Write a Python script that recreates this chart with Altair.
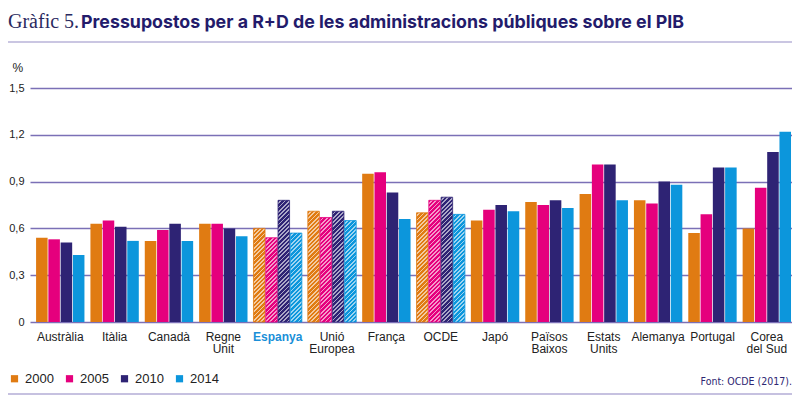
import altair as alt
import pandas as pd
import math

countries = ["Austràlia", "Itàlia", "Canadà", "Regne Unit", "Espanya", "Unió Europea",
             "França", "OCDE", "Japó", "Països Baixos", "Estats Units", "Alemanya",
             "Portugal", "Corea del Sud"]
years = ["2000", "2005", "2010", "2014"]
v2000 = [0.54, 0.63, 0.52, 0.63, 0.60, 0.71, 0.95, 0.70, 0.65, 0.77, 0.82, 0.78, 0.57, 0.60]
v2005 = [0.53, 0.65, 0.59, 0.63, 0.54, 0.67, 0.96, 0.78, 0.72, 0.75, 1.01, 0.76, 0.69, 0.86]
v2010 = [0.51, 0.61, 0.63, 0.60, 0.78, 0.71, 0.83, 0.80, 0.75, 0.78, 1.01, 0.90, 0.99, 1.09]
v2014 = [0.43, 0.52, 0.52, 0.55, 0.57, 0.65, 0.66, 0.69, 0.71, 0.73, 0.78, 0.88, 0.99, 1.22]
hatched = ["Espanya", "Unió Europea", "OCDE"]
colors = ["#e07b12", "#e5007d", "#2e2374", "#0c96dc"]

series = [v2000, v2005, v2010, v2014]
rows = []
for yi, yr in enumerate(years):
    for ci, c in enumerate(countries):
        rows.append({"country": c, "year": yr, "value": series[yi][ci],
                     "hatched": c in hatched})
df = pd.DataFrame(rows)

W, H = 762, 234
YMAX = 1.5
PI, PO, ALIGN = 0.11, 0.065, 0.86
PI2 = 0.06
step = W / (len(countries) - PI + 2 * PO)
bw = step * (1 - PI)
step2 = bw / (len(years) - PI2)
barw = step2 * (1 - PI2)

def lighten(hexc, f):
    r, g, b = int(hexc[1:3], 16), int(hexc[3:5], 16), int(hexc[5:7], 16)
    r = round(r + (255 - r) * f); g = round(g + (255 - g) * f); b = round(b + (255 - b) * f)
    return "#%02x%02x%02x" % (r, g, b)

def hatch_gradient(col, value):
    h = value / YMAX * H
    w = barw
    light = lighten(col, 0.6)
    period = 3.0 * math.sqrt(2)
    frac = 0.42
    k = w / (w * w + h * h)
    stops = []
    s = 0.0
    total = w + h
    while s < total:
        a = s * k
        b = (s + (1 - frac) * period) * k
        c = (s + period) * k
        stops += [{"offset": min(a, 1), "color": col}, {"offset": min(b, 1), "color": col},
                  {"offset": min(b, 1), "color": light}, {"offset": min(c, 1), "color": light}]
        s += period
    return {"gradient": "linear", "x1": 0, "y1": 0, "x2": 1, "y2": h / w, "stops": stops}

label_font = "Liberation Sans, Arial, sans-serif"

x_enc = alt.X("country:N",
              scale=alt.Scale(domain=countries, paddingInner=PI, paddingOuter=PO, align=ALIGN),
              axis=alt.Axis(title=None, domain=False, ticks=False, labelAngle=0,
                            labelPadding=9, labelFontSize=12, labelFont=label_font,
                            labelBaseline="top", labelLineHeight=12.5,
                            labelColor=alt.condition("datum.value == 'Espanya'",
                                                     alt.value("#1a8fd8"), alt.value("#222222")),
                            labelFontWeight=alt.condition("datum.value == 'Espanya'",
                                                          alt.value("bold"), alt.value("normal")),
                            labelExpr="datum.value == 'Corea del Sud' ? ['Corea', 'del Sud'] : split(datum.value, ' ')"))
xo_enc = alt.XOffset("year:N", scale=alt.Scale(domain=years, paddingInner=PI2, paddingOuter=0))
y_enc = alt.Y("value:Q", scale=alt.Scale(domain=[0, YMAX], nice=False),
              axis=alt.Axis(values=[0, 0.3, 0.6, 0.9, 1.2, 1.5], domain=False, ticks=False,
                            grid=True, gridColor="#7b70b6", gridWidth=1.5,
                            labelPadding=6, labelFontSize=11, labelFont=label_font,
                            labelColor="#222222",
                            labelExpr="datum.value == 0 ? '0' : replace(format(datum.value, '.1f'), '.', ',')",
                            title="%", titleAngle=0, titleAlign="left", titleBaseline="middle",
                            titleX=-18, titleY=-21, titleFontSize=12, titleFontWeight="normal",
                            titleFont=label_font, titleColor="#222222"))

base = alt.Chart(df[~df["hatched"]]).mark_bar().encode(
    x=x_enc, xOffset=xo_enc, y=y_enc,
    color=alt.Color("year:N", scale=alt.Scale(domain=years, range=colors),
                    legend=alt.Legend(title=None, orient="none", legendX=-22, legendY=284,
                                      direction="horizontal", symbolType="square",
                                      symbolSize=52, symbolStrokeWidth=0,
                                      labelFontSize=13, labelFont=label_font,
                                      labelColor="#222222", labelOffset=4,
                                      columnPadding=9))
)

layers = [base]
hdf = df[df["hatched"]]
for _, r in hdf.iterrows():
    col = colors[years.index(r["year"])]
    g = hatch_gradient(col, r["value"])
    layers.append(
        alt.Chart(pd.DataFrame([r])).mark_bar(color=g, stroke=col, strokeWidth=0.8).encode(
            x=x_enc, xOffset=xo_enc, y=y_enc)
    )

one = pd.DataFrame({"a": [0]})
title_a = alt.Chart(one).mark_text(align="left", baseline="alphabetic",
                                   font="Liberation Serif, serif", fontSize=20,
                                   color="#2a2960").encode(
    x=alt.value(-22), y=alt.value(-60), text=alt.value("Gràfic 5."))
title_b = alt.Chart(one).mark_text(align="left", baseline="alphabetic",
                                   font="Inter, sans-serif", fontSize=17.8, fontWeight="bold",
                                   color="#231b6b").encode(
    x=alt.value(51), y=alt.value(-60),
    text=alt.value("Pressupostos per a R+D de les administracions públiques sobre el PIB"))
line_top = alt.Chart(one).mark_rule(color="#b9b3d8", strokeWidth=1.5).encode(
    x=alt.value(-22), x2=alt.value(W), y=alt.value(-46))
line_bot = alt.Chart(one).mark_rule(color="#c6c1e0", strokeWidth=2).encode(
    x=alt.value(-22), x2=alt.value(W), y=alt.value(306))
source = alt.Chart(one).mark_text(align="right", baseline="alphabetic",
                                  font="Liberation Sans Narrow, DejaVu Sans Condensed, sans-serif",
                                  fontSize=10.5, color="#2e2672").encode(
    x=alt.value(W), y=alt.value(297), text=alt.value("Font: OCDE (2017)."))

chart = alt.layer(*layers, title_a, title_b, line_top, line_bot, source).properties(
    width=W, height=H,
    autosize=alt.AutoSizeParams(type="none"),
    padding={"left": 22, "top": 80, "right": 0, "bottom": 76},
).configure_view(stroke=None)

chart.save("out.html", embed_options={"renderer": "svg", "actions": False})
